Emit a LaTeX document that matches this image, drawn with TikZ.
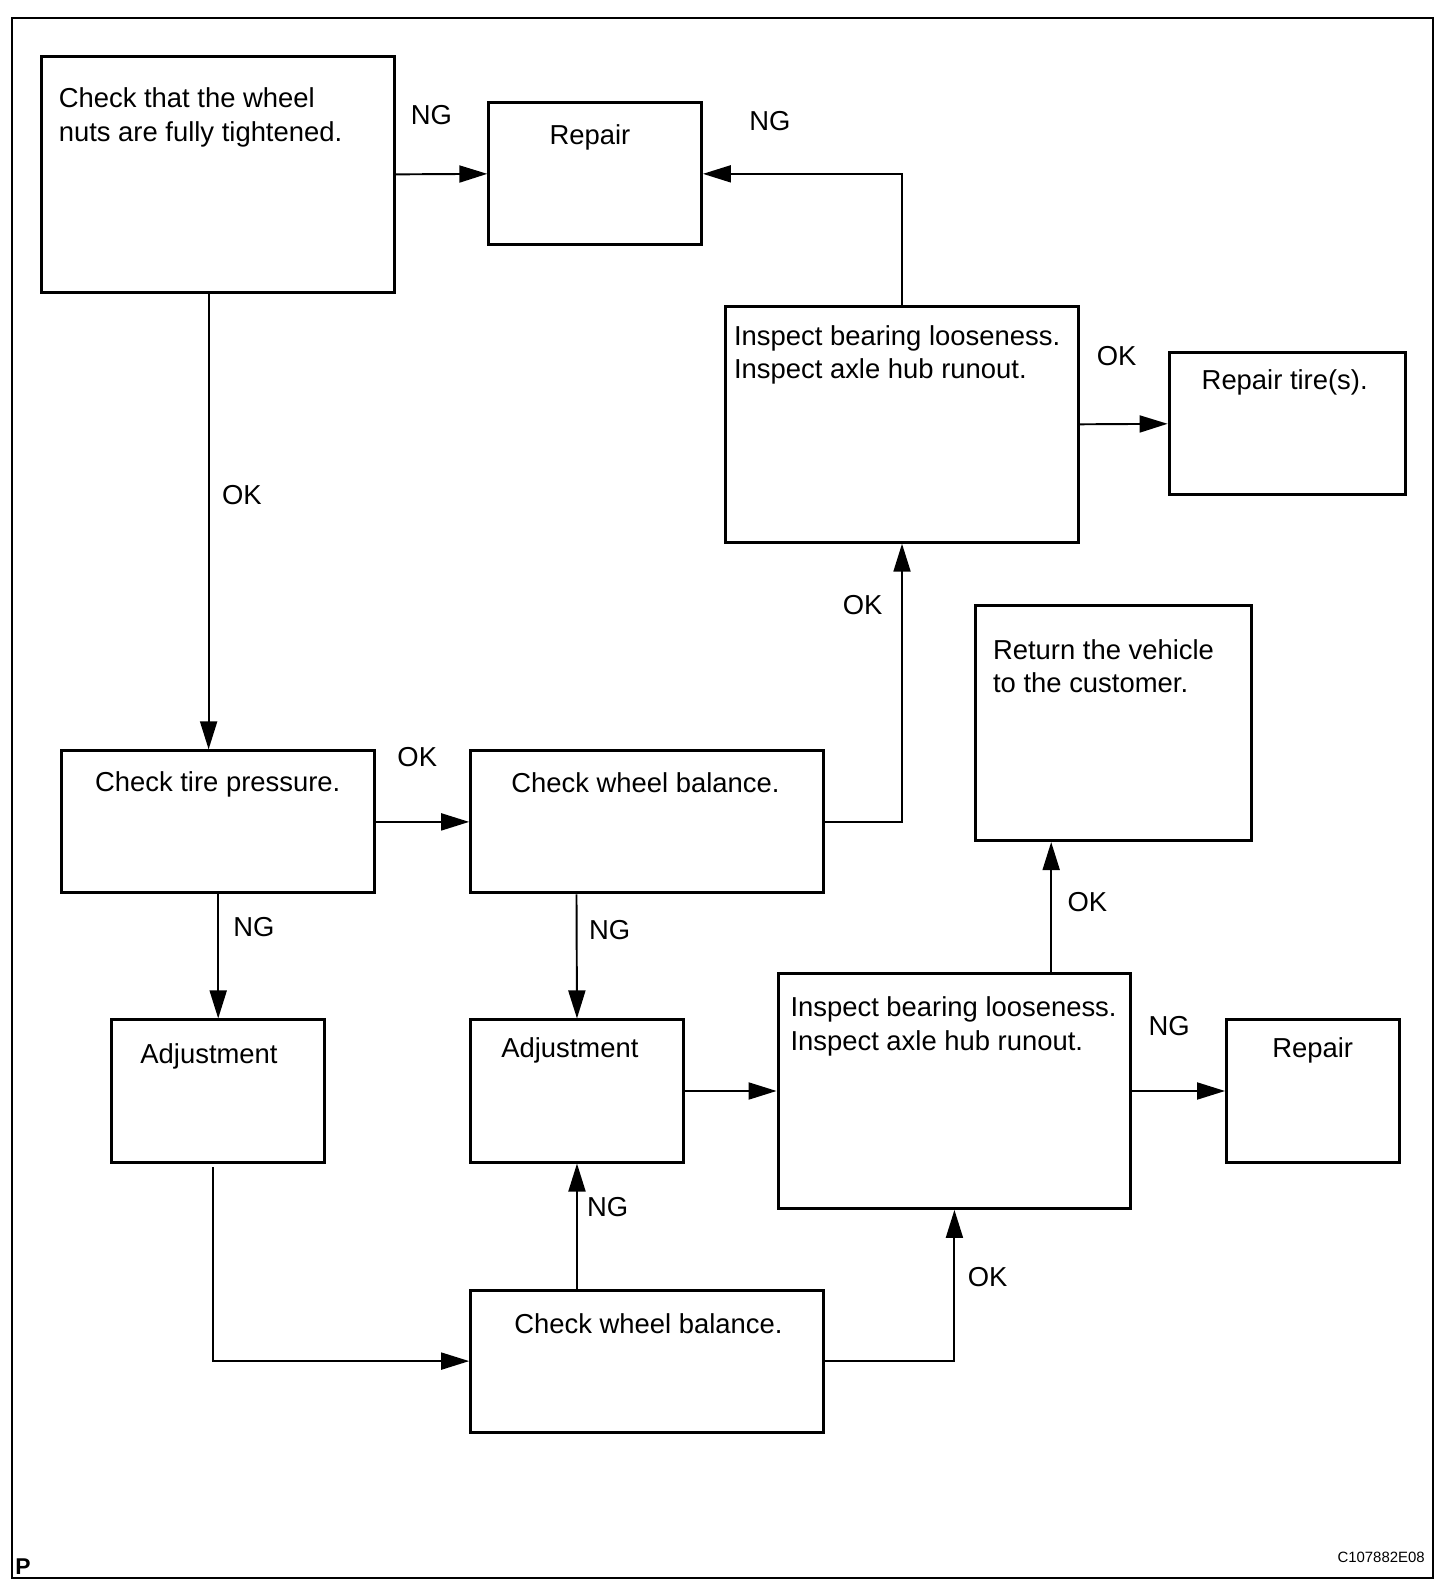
\documentclass[tikz,border=0pt]{standalone}
\usepackage{fontspec}
\setmainfont{Liberation Sans}
\usetikzlibrary{arrows.meta,fit}

\begin{document}
\begin{tikzpicture}[x=0.02015cm,y=-0.02015cm]
	\draw[line width=1.2pt] (12,18) rectangle (1422,1566);

	% boxes
	\begin{scope}[every node/.style={draw,line width=1.7pt,inner sep=0pt,rectangle}]
	    \node[fit={(41,56) (391,290)}] (nuts) {};
	    \node[fit={(485,102) (696,243)}] (rep1) {};
	    \node[fit={(720,304) (1070,538)}] (insp1) {};
	    \node[fit={(1160,350) (1395,491)}] (tires) {};
	    \node[fit={(968,601) (1242,834)}] (ret) {};
	    \node[fit={(61,745) (372,886)}] (tire) {};
	    \node[fit={(467,745) (817,886)}] (bal1) {};
	    \node[fit={(111,1012) (322,1153)}] (adj1) {};
	    \node[fit={(467,1012) (678,1153)}] (adj2) {};
	    \node[fit={(772,966) (1122,1199)}] (insp2) {};
	    \node[fit={(1217,1012) (1389,1153)}] (rep2) {};
	    \node[fit={(467,1280) (817,1421)}] (bal2) {};
	\end{scope}

	% box texts
	\begin{scope}[every node/.style={inner sep=0pt,anchor=north west,align=left,
	              font=\fontsize{15.6pt}{18.9pt}\selectfont}]
	    \node at (58,87) {Check that the wheel\\nuts are fully tightened.};
	    \node at (545,123) {Repair};
	    \node at (728,323) {Inspect bearing looseness.\\Inspect axle hub runout.};
	    \node at (1192,366) {Repair tire(s).};
	    \node at (985,634) {Return the vehicle\\to the customer.};
	    \node at (94,765) {Check tire pressure.};
	    \node at (507,766) {Check wheel balance.};
	    \node at (139,1035) {Adjustment};
	    \node at (497,1029) {Adjustment};
	    \node at (784,989) {Inspect bearing looseness.\\Inspect axle hub runout.};
	    \node at (1262,1029) {Repair};
	    \node at (510,1303) {Check wheel balance.};
	\end{scope}

	% result labels
	\begin{scope}[every node/.style={inner sep=0pt,font=\fontsize{15.6pt}{18.9pt}\selectfont}]
	    \node (ng1) at (428,114) {NG};
	    \node (ok1) at (240,491) {OK};
	    \node (ng2) at (764,120) {NG};
	    \node (ok2) at (1108,353) {OK};
	    \node (ok3) at (856,600) {OK};
	    \node (ok4) at (414,751) {OK};
	    \node (ng3) at (252,920) {NG};
	    \node (ng4) at (605,923) {NG};
	    \node (ok5) at (1079,895) {OK};
	    \node (ng5) at (1160,1018) {NG};
	    \node (ng6) at (603,1198) {NG};
	    \node (ok6) at (980,1267) {OK};
	\end{scope}

	% connectors
	\coordinate (a1out) at (211,1158);
	\begin{scope}[>={Triangle[length=0.56cm,width=0.34cm]},line width=1.1pt]
	    \draw[->] (nuts.east) -- (rep1.west);
	    \draw[->] (207,0 |- nuts.south) -- (207,0 |- tire.north);
	    \draw[->] (insp1.north) |- (rep1.east);
	    \draw[->] (insp1.east) -- (tires.west);
	    \draw[->] (bal1.east) -| (insp1.south);
	    \draw[->] (tire.east) -- (bal1.west);
	    \draw[->] (tire.south) -- (adj1.north);
	    \draw[->] (572,0 |- bal1.south) -- (adj2.north);
	    \draw[->] (adj2.east) -- (insp2.west);
	    \draw[->] (1043,0 |- insp2.north) -- (1043,0 |- ret.south);
	    \draw[->] (insp2.east) -- (rep2.west);
	    \draw[->] (a1out) |- (bal2.west);
	    \draw[->] (adj2.south |- bal2.north) -- (adj2.south);
	    \draw[->] (bal2.east) -| (insp2.south);
	\end{scope}

	\node[inner sep=0pt,anchor=base west,font=\bfseries\fontsize{13pt}{13pt}\selectfont] (pmark) at (15,1562) {P};
	\node[inner sep=0pt,anchor=base east,font=\fontsize{8.5pt}{9pt}\selectfont] (code) at (1414,1550) {C107882E08};

	\pgfresetboundingbox
	\useasboundingbox (0cm,0cm) rectangle (29.12cm,-31.6cm);
\end{tikzpicture}
\end{document}
